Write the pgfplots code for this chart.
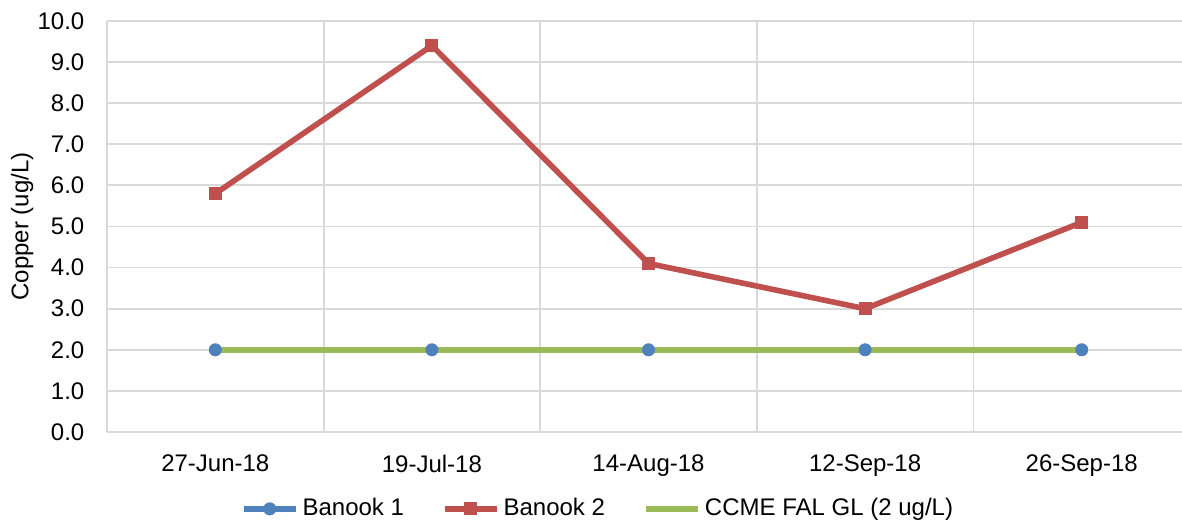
\documentclass[border=0pt]{standalone}
\usepackage{fontspec}
\setmainfont{Liberation Sans}
\usepackage{pgfplots}
\pgfplotsset{compat=1.18}
\definecolor{bblue}{HTML}{4F81BD}
\definecolor{bred}{HTML}{C0504D}
\definecolor{bgreen}{HTML}{9BBB59}
\definecolor{gridgray}{HTML}{D9D9D9}
\begin{document}
\fontsize{12pt}{14pt}\selectfont
\begin{tikzpicture}
\begin{axis}[
  scale only axis,
  width=537.5pt, height=205.5pt,
  xmin=-0.5, xmax=4.463, ymin=0, ymax=10,
  axis lines=left,
  axis line style={draw=gridgray, line width=0.9pt, -},
  xtick={0,1,2,3,4},
  xticklabels={27-Jun-18,19-Jul-18,14-Aug-18,12-Sep-18,26-Sep-18},
  xtick style={draw=none},
  extra x ticks={-0.5,0.5,1.5,2.5,3.5},
  extra x tick labels={},
  extra x tick style={grid=major, tick align=outside, major tick length=3.5pt,
     tick style={draw=gridgray, line width=0.9pt}},
  ytick={0,1,...,10},
  ytick style={draw=none},
  ymajorgrids,
  grid style={draw=gridgray, line width=0.9pt},
  yticklabel={\pgfmathprintnumber[fixed,fixed zerofill,precision=1]{\tick}},
  /pgf/number format/assume math mode=true,
  tick label style={font=\fontsize{12pt}{14pt}\selectfont},
  xticklabel style={yshift=-5pt},
  yticklabel style={xshift=-5pt},
  ylabel={Copper (ug/L)},
  ylabel style={at={(axis description cs:-0.079,0.5)}, anchor=center, font=\fontsize{12pt}{14pt}\selectfont},
  legend columns=3,
  legend style={at={(0.4577,-0.187)}, anchor=center, draw=none, fill=none,
     font=\fontsize{12pt}{14pt}\selectfont,
     /tikz/every even column/.append style={column sep=17pt}},
  legend image code/.code={\draw[mark repeat=2,mark phase=2] plot coordinates {(0pt,0pt) (13pt,0pt) (26pt,0pt)};},
]
\addplot[color=bblue, line width=2.8pt, mark=*, mark size=3pt, mark options={line width=0.5pt}]
  coordinates {(0,2.0) (1,2.0) (2,2.0) (3,2.0) (4,2.0)};
\addlegendentry{Banook 1}
\addplot[color=bred, line width=2.8pt, mark=square*, mark size=3pt, mark options={line width=0.5pt}]
  coordinates {(0,5.8) (1,9.4) (2,4.1) (3,3.0) (4,5.1)};
\addlegendentry{Banook 2}
\addplot[color=bgreen, line width=3pt, mark=none]
  coordinates {(0,2.0) (1,2.0) (2,2.0) (3,2.0) (4,2.0)};
\addlegendentry{CCME FAL GL (2 ug/L)}
\end{axis}
\pgfresetboundingbox
\path[use as bounding box] (-53.5pt,-45pt) rectangle (537.5pt,216pt);
\end{tikzpicture}
\end{document}
